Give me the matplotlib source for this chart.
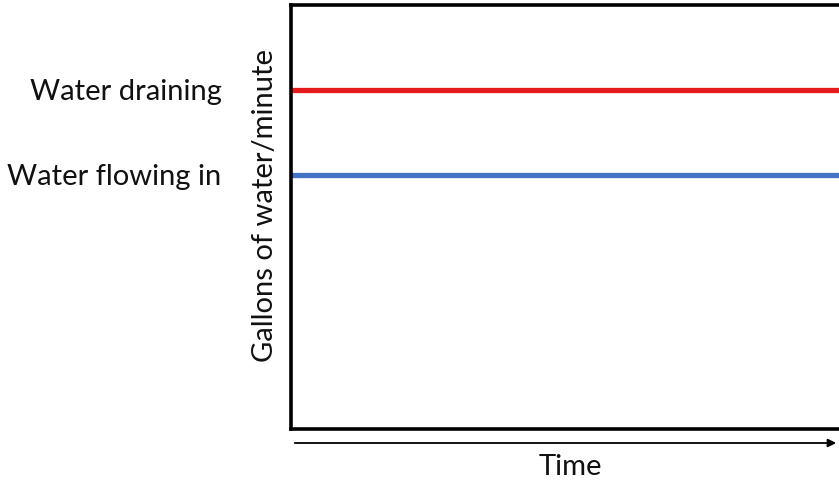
import numpy as np
import matplotlib.pyplot as plt

plt.rcParams['font.family'] = ['Lato', 'DejaVu Sans']

# data
series_labels = ['Water draining', 'Water flowing in']
series_levels = [8, 6]
series_colors = ['#e41a1c', '#4472c4']
time_range = [0, 10]

W, H = 839, 488
fig = plt.figure(figsize=(W / 100, H / 100), dpi=100)
ax = fig.add_axes([291 / W, 1 - 429 / H, 1.0 - 291 / W, (429 - 5) / H])

for lvl, col in zip(series_levels, series_colors):
  ax.plot(time_range, [lvl, lvl], color=col, lw=3.8, solid_capstyle='butt')

ax.set_xlim(time_range)
ax.set_ylim(0, 10)
ax.set_xticks([])
ax.set_yticks(series_levels)
ax.set_yticklabels(series_labels, fontsize=21, color='#111111')
ax.tick_params(axis='y', length=0, pad=50)
for s in ['left', 'top', 'bottom']:
  ax.spines[s].set_linewidth(2.6)
ax.spines['right'].set_visible(False)

fig.text(265 / W, 1 - 205 / H, 'Gallons of water/minute', rotation=90,
         ha='center', va='center', fontsize=21, color='#111111')
fig.text(570 / W, 1 - 467 / H, 'Time', ha='center', va='center',
         fontsize=21, color='#111111')

# time arrow under the axes
fig.add_artist(plt.matplotlib.patches.FancyArrowPatch(
  (292 / W, 1 - 443 / H), (839 / W, 1 - 443 / H), transform=fig.transFigure,
  arrowstyle='-|>', mutation_scale=12, lw=1.3, color='black'))

fig.savefig('out.png', dpi=100)
